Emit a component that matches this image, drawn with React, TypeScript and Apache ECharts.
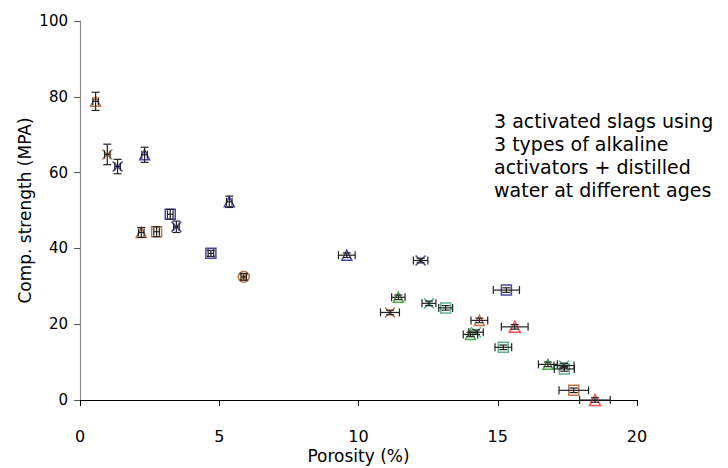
import React, { useEffect, useRef } from "react";
import * as echarts from "echarts";

// each point: [porosity %, strength MPa, x error, y error]
const brownTriangle = [[0.56, 78.8, 0.1, 2.4], [2.2, 44.2, 0.1, 1.3], [14.34, 21.0, 0.3, 0.6]];
const brownCross = [[0.98, 64.8, 0.1, 2.7], [11.13, 23.1, 0.34, 0.6]];
const navyCross = [[1.35, 61.6, 0.1, 1.9], [3.46, 45.7, 0.1, 1.5], [12.23, 36.8, 0.26, 0.6]];
const navyTriangle = [[2.32, 64.7, 0.1, 2.0], [5.36, 52.3, 0.1, 1.5], [9.58, 38.2, 0.3, 0.6]];
const brownSquare = [[2.75, 44.4, 0.1, 1.3], [17.73, 2.55, 0.53, 0.6]];
const navySquare = [[3.24, 49.0, 0.1, 1.3], [4.7, 38.7, 0.1, 0.8], [15.31, 29.0, 0.47, 0.6]];
const brownCircleCross = [[5.88, 32.5, 0.1, 0.9]];
const greenTriangle = [[11.43, 27.1, 0.24, 0.6], [14.02, 17.3, 0.26, 0.6], [16.8, 9.4, 0.34, 0.6]];
const tealCross = [[12.53, 25.5, 0.25, 0.6], [14.22, 17.9, 0.26, 0.6], [17.38, 9.1, 0.36, 0.6]];
const tealSquare = [[13.13, 24.3, 0.25, 0.6], [15.2, 13.9, 0.3, 0.6], [17.39, 8.2, 0.36, 0.6]];
const redTriangle = [[15.61, 19.3, 0.48, 0.6], [18.49, 0.0, 0.55, 0.6]];

const xTicks = [0, 5, 10, 15, 20];
const yTicks = [0, 20, 40, 60, 80, 100];
const annotation = [
  "3 activated slags using",
  "3 types of alkaline",
  "activators + distilled",
  "water at different ages",
];

const FONT = "'Comic Sans MS', 'DejaVu Sans', sans-serif";

const SYM_CROSS = "path://M0,0L10,10M10,0L0,10";
const SYM_CIRCLE_CROSS =
  "path://M0,5A5,5 0 1,0 10,5A5,5 0 1,0 0,5ZM1.5,1.5L8.5,8.5M8.5,1.5L1.5,8.5";

const groups = [
  { data: brownTriangle, color: "#b3521e", symbol: "triangle", size: 10 },
  { data: brownCross, color: "#b3521e", symbol: SYM_CROSS, size: 10 },
  { data: navyCross, color: "#1a1a8c", symbol: SYM_CROSS, size: 10 },
  { data: navyTriangle, color: "#1a1a8c", symbol: "triangle", size: 10 },
  { data: brownSquare, color: "#b3521e", symbol: "rect", size: 10 },
  { data: navySquare, color: "#1a1a8c", symbol: "rect", size: 10 },
  { data: brownCircleCross, color: "#b3521e", symbol: SYM_CIRCLE_CROSS, size: 11 },
  { data: greenTriangle, color: "#1c9a1c", symbol: "triangle", size: 10 },
  { data: tealCross, color: "#3a9e70", symbol: SYM_CROSS, size: 10 },
  { data: tealSquare, color: "#3a9e70", symbol: "rect", size: 10 },
  { data: redTriangle, color: "#ff2020", symbol: "triangle", size: 11 },
];

const allPoints = groups.flatMap((g) => g.data);

export default function App() {
  const ref = useRef<HTMLDivElement>(null);
  useEffect(() => {
    if (!ref.current) return;
    const chart = echarts.init(ref.current, null, { renderer: "svg" });

    const scatterSeries = groups.map((g) => ({
      type: "scatter",
      data: g.data.map((p) => [p[0], p[1]]),
      symbol: g.symbol,
      symbolSize: g.size,
      itemStyle: { color: "rgba(255,255,255,0)", borderColor: g.color, borderWidth: 1.5 },
      z: 3,
    }));

    const errorSeries = {
      type: "custom",
      data: allPoints,
      encode: { x: 0, y: 1 },
      z: 4,
      renderItem: (params: any, api: any) => {
        const x = api.value(0);
        const y = api.value(1);
        const ex = api.value(2);
        const ey = api.value(3);
        const l = api.coord([x - ex, y]);
        const r = api.coord([x + ex, y]);
        const t = api.coord([x, y + ey]);
        const b = api.coord([x, y - ey]);
        const st = { stroke: "#222", lineWidth: 1.2 };
        const cap = 4;
        return {
          type: "group",
          children: [
            { type: "line", shape: { x1: l[0], y1: l[1], x2: r[0], y2: r[1] }, style: st },
            { type: "line", shape: { x1: l[0], y1: l[1] - cap, x2: l[0], y2: l[1] + cap }, style: st },
            { type: "line", shape: { x1: r[0], y1: r[1] - cap, x2: r[0], y2: r[1] + cap }, style: st },
            { type: "line", shape: { x1: t[0], y1: t[1], x2: b[0], y2: b[1] }, style: st },
            { type: "line", shape: { x1: t[0] - cap, y1: t[1], x2: t[0] + cap, y2: t[1] }, style: st },
            { type: "line", shape: { x1: b[0] - cap, y1: b[1], x2: b[0] + cap, y2: b[1] }, style: st },
          ],
        };
      },
    };

    chart.setOption({
      animation: false,
      backgroundColor: "#ffffff",
      grid: {
        left: 80,
        right: 91,
        top: 21,
        bottom: 68,
        containLabel: false,
        outerBoundsMode: "none",
      },
      xAxis: {
        type: "value",
        min: xTicks[0],
        max: xTicks[xTicks.length - 1],
        interval: xTicks[1] - xTicks[0],
        name: "Porosity (%)",
        nameLocation: "middle",
        nameGap: 47,
        nameMoveOverlap: false,
        nameTextStyle: { fontFamily: FONT, fontSize: 17, color: "#000" },
        axisLine: { onZero: false, lineStyle: { color: "#000", width: 1 } },
        axisTick: { show: true, inside: false, length: 6, lineStyle: { color: "#000" } },
        axisLabel: { margin: 28, fontFamily: FONT, fontSize: 16, color: "#000" },
        splitLine: { show: false },
      },
      yAxis: {
        type: "value",
        min: yTicks[0],
        max: yTicks[yTicks.length - 1],
        interval: yTicks[1] - yTicks[0],
        name: "Comp. strength (MPA)",
        nameLocation: "middle",
        nameGap: 47,
        nameMoveOverlap: false,
        nameTextStyle: { fontFamily: FONT, fontSize: 17, color: "#000" },
        axisLine: { lineStyle: { color: "#888", width: 1.2 } },
        axisTick: { show: true, inside: false, length: 6, lineStyle: { color: "#555" } },
        axisLabel: { margin: 12, fontFamily: FONT, fontSize: 15, color: "#000" },
        splitLine: { show: false },
      },
      graphic: [
        {
          type: "text",
          left: 494,
          top: 109,
          style: {
            text: annotation.join("\n"),
            fontFamily: FONT,
            fontSize: 19,
            lineHeight: 23,
            fill: "#000",
          },
        },
      ],
      series: [...scatterSeries, errorSeries],
    });
    return () => chart.dispose();
  }, []);
  return (
    <div
      ref={ref}
      style={{ position: "fixed", left: 0, top: 0, width: 728, height: 468 }}
    />
  );
}
